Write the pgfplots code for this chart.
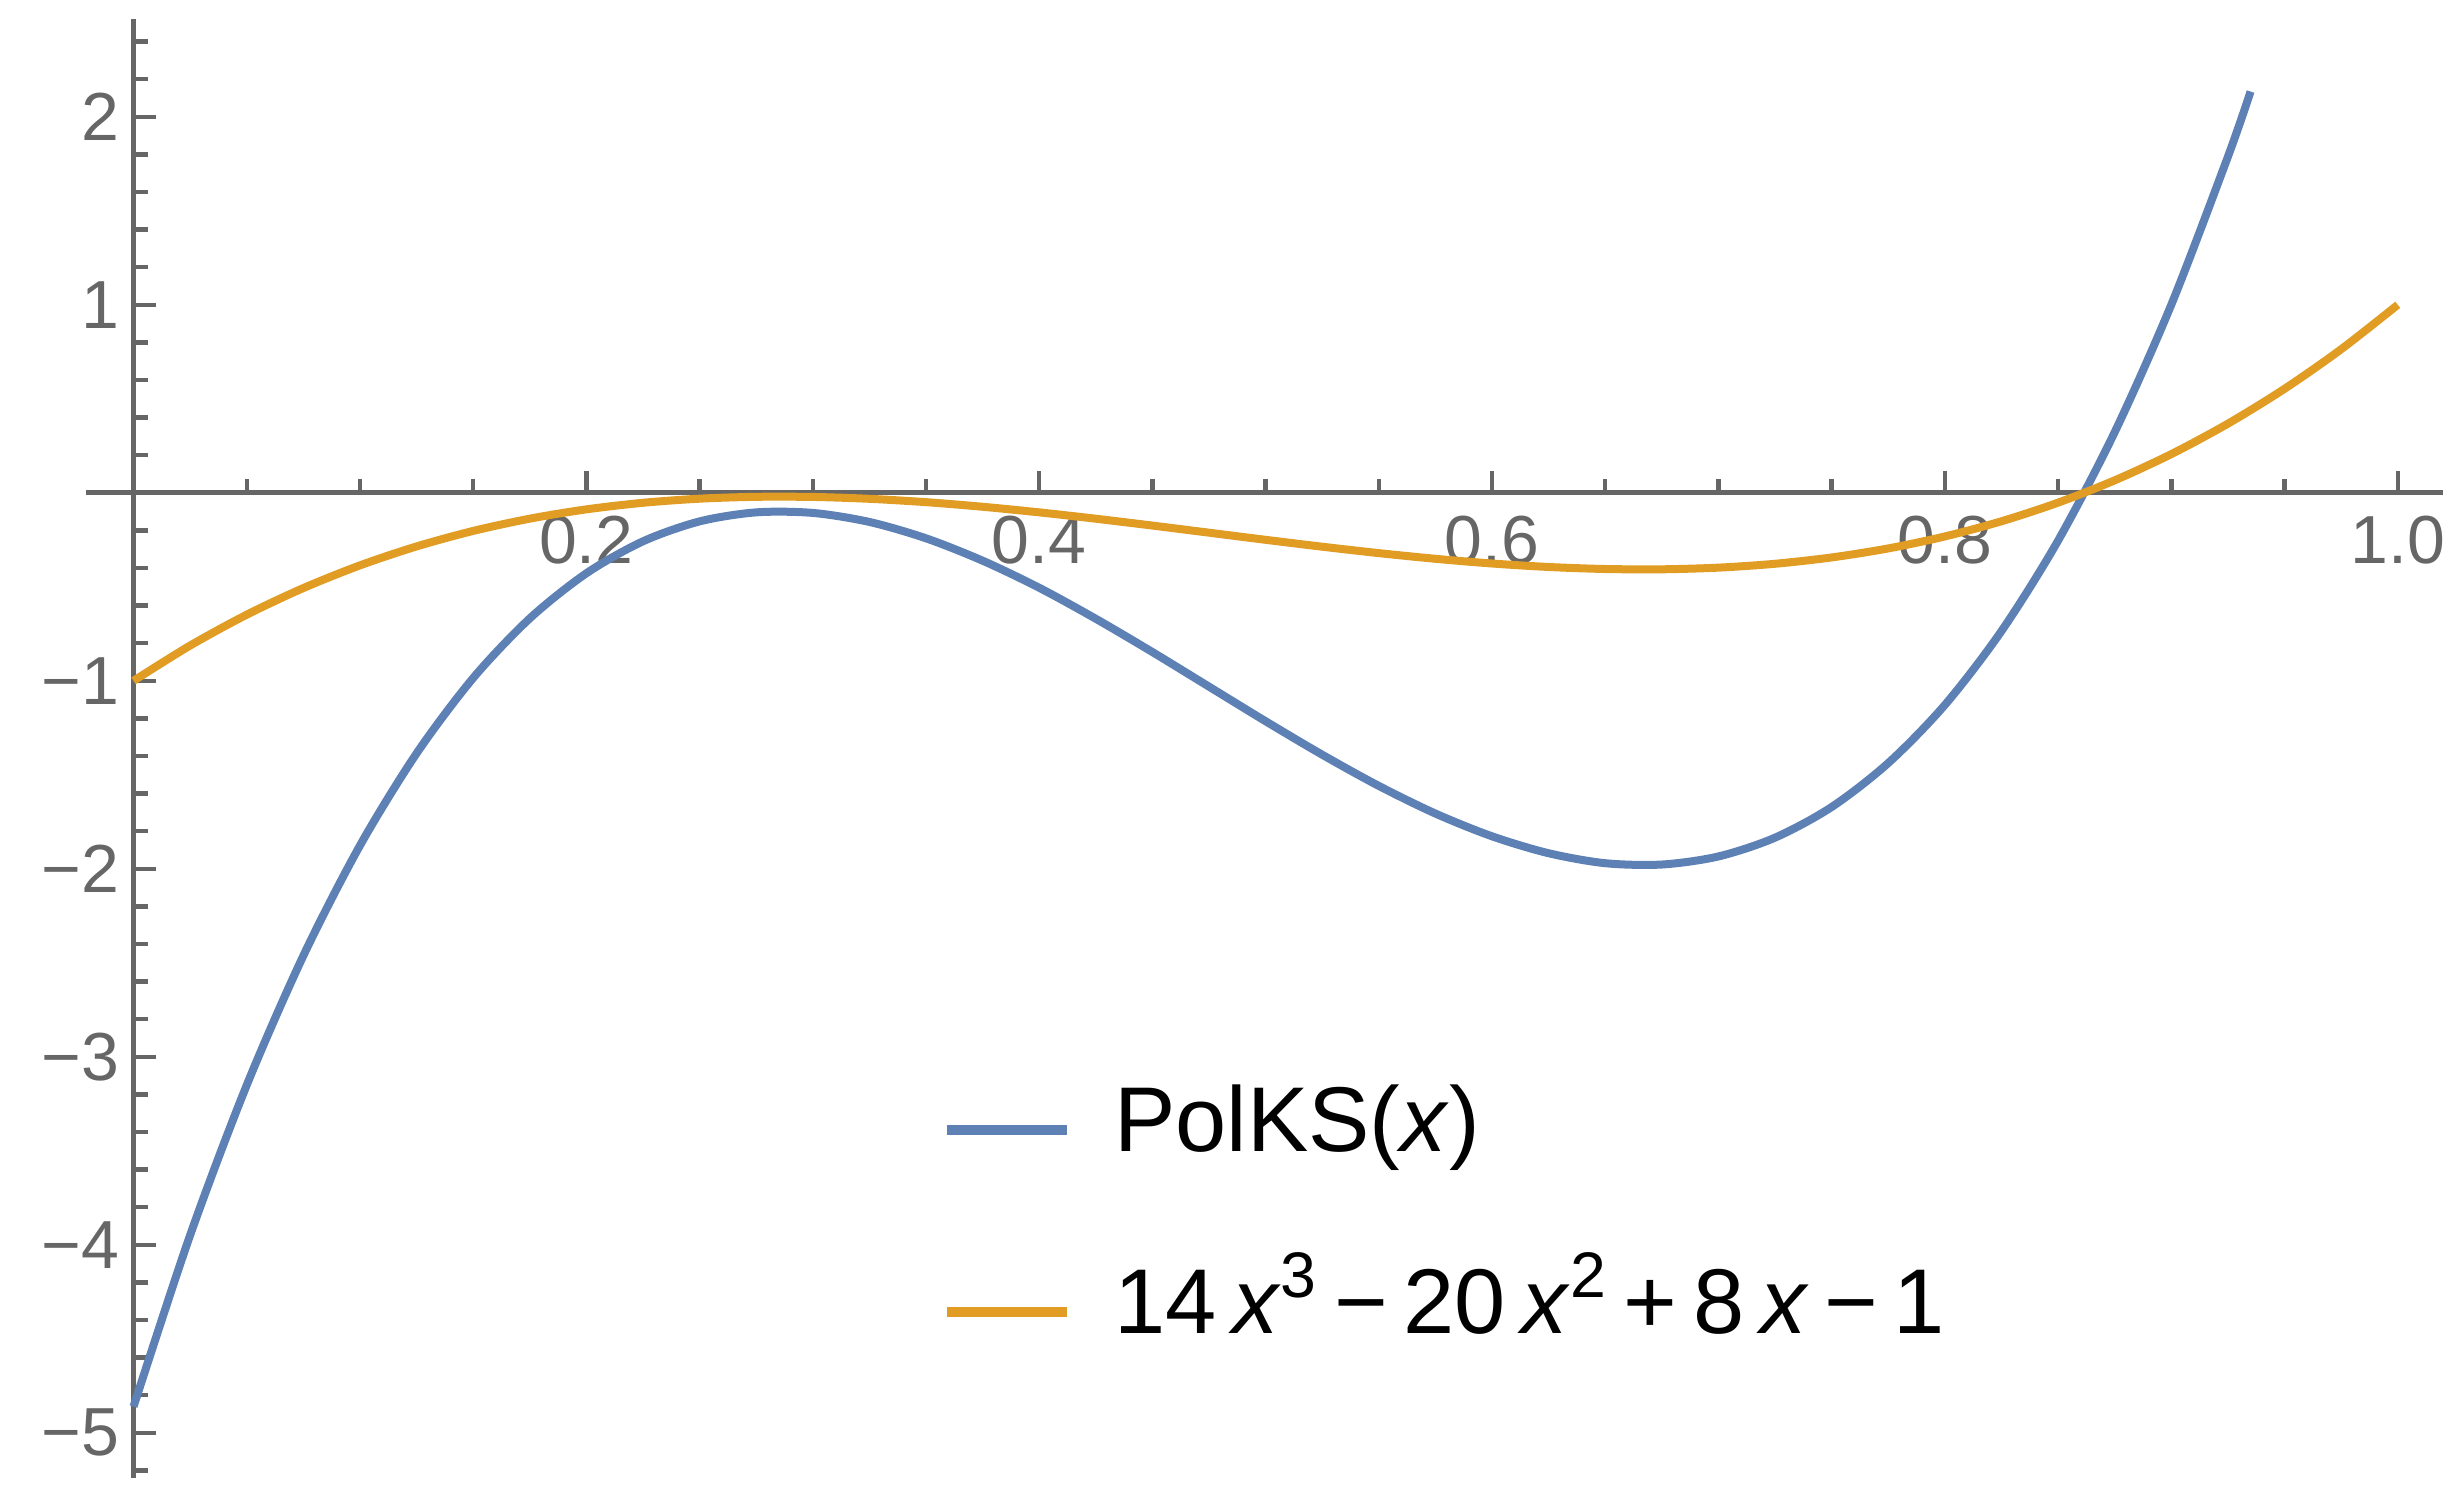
\documentclass[border=0pt]{standalone}
\usepackage{fontspec}
\setmainfont{Liberation Sans}
\usepackage{pgfplots}
\pgfplotsset{compat=1.18}
\definecolor{mblue}{RGB}{94,129,181}
\definecolor{morange}{RGB}{225,156,36}
\definecolor{axgray}{RGB}{102,102,102}

% PolKS(x)
\pgfplotstableread{
x y
0 -4.86
0.025 -3.948
0.05 -3.150
0.075 -2.462
0.1 -1.876
0.125 -1.386
0.15 -0.985
0.175 -0.668
0.2 -0.428
0.225 -0.258
0.25 -0.152
0.275 -0.104
0.3 -0.107
0.325 -0.155
0.35 -0.242
0.375 -0.361
0.4 -0.505
0.425 -0.670
0.45 -0.847
0.475 -1.031
0.5 -1.215
0.525 -1.393
0.55 -1.559
0.575 -1.706
0.6 -1.827
0.625 -1.917
0.65 -1.970
0.675 -1.977
0.7 -1.934
0.725 -1.834
0.75 -1.671
0.775 -1.437
0.8 -1.128
0.825 -0.735
0.85 -0.254
0.875 0.323
0.9 1.001
0.925 1.788
0.935 2.134
}\polks

% 14x^3-20x^2+8x-1
\pgfplotstableread{
x y
0 -1
0.025 -0.81228
0.05 -0.64825
0.075 -0.50659
0.1 -0.386
0.125 -0.28516
0.15 -0.20275
0.175 -0.13747
0.2 -0.088
0.225 -0.05303
0.25 -0.03125
0.275 -0.02134
0.3 -0.022
0.325 -0.03191
0.35 -0.04975
0.375 -0.07422
0.4 -0.104
0.425 -0.13778
0.45 -0.17425
0.475 -0.21209
0.5 -0.25
0.525 -0.28666
0.55 -0.32075
0.575 -0.35097
0.6 -0.376
0.625 -0.39453
0.65 -0.40525
0.675 -0.40684
0.7 -0.398
0.725 -0.37741
0.75 -0.34375
0.775 -0.29572
0.8 -0.232
0.825 -0.15128
0.85 -0.05225
0.875 0.06641
0.9 0.206
0.925 0.36784
0.95 0.55325
0.975 0.76353
1.0 1
}\cubic

\newcommand{\gap}{\hspace{0.17em}}

\begin{document}
\begin{tikzpicture}
\useasboundingbox (-21.5pt,-5.75pt) rectangle (593.75pt,369.5pt);
\begin{axis}[
  scale only axis,
  width=589.25pt, height=364.75pt,
  axis lines=middle,
  axis line style={-, axgray, line width=1.2pt},
  xmin=-0.021, xmax=1.02, ymin=-5.24, ymax=2.52,
  xtick={0.2,0.4,0.6,0.8,1.0},
  xticklabels={0.2,0.4,0.6,0.8,1.0},
  ytick={-5,-4,-3,-2,-1,1,2},
  yticklabels={−5,−4,−3,−2,−1,1,2},
  minor xtick={0.05,0.1,...,0.95},
  minor ytick={-5.2,-5,...,2.4},
  tick align=inside,
  major tick length=5.5pt, minor tick length=3.5pt,
  tick style={axgray, line width=1.1pt},
  ticklabel style={font=\fontsize{17}{20}\selectfont, text=axgray},
  xticklabel style={yshift=-2.3pt},
  legend style={draw=none, fill=none, inner sep=0pt,
    at={(axis cs:0.357,-3.872)}, anchor=west,
    font=\fontsize{23}{27}\selectfont, row sep=22.5pt,
    nodes={inner sep=0pt, text height=17pt, text depth=6pt}},
  legend cell align=left,
  legend image code/.code={\draw[#1, line width=2.4pt] (0pt,0pt) -- (30pt,0pt);},
  clip=false,
]
\addplot[mblue, line width=2pt, smooth] table {\polks};
\addplot[morange, line width=2pt, smooth] table {\cubic};
\legend{\hspace{10.5pt}PolKS(\textit{x}),
  \hspace{10.5pt}14\gap\textit{x}\textsuperscript{3}\gap−\gap20\gap\textit{x}\textsuperscript{2}\gap+\gap8\gap\textit{x}\gap−\gap1}
\end{axis}
\end{tikzpicture}
\end{document}
